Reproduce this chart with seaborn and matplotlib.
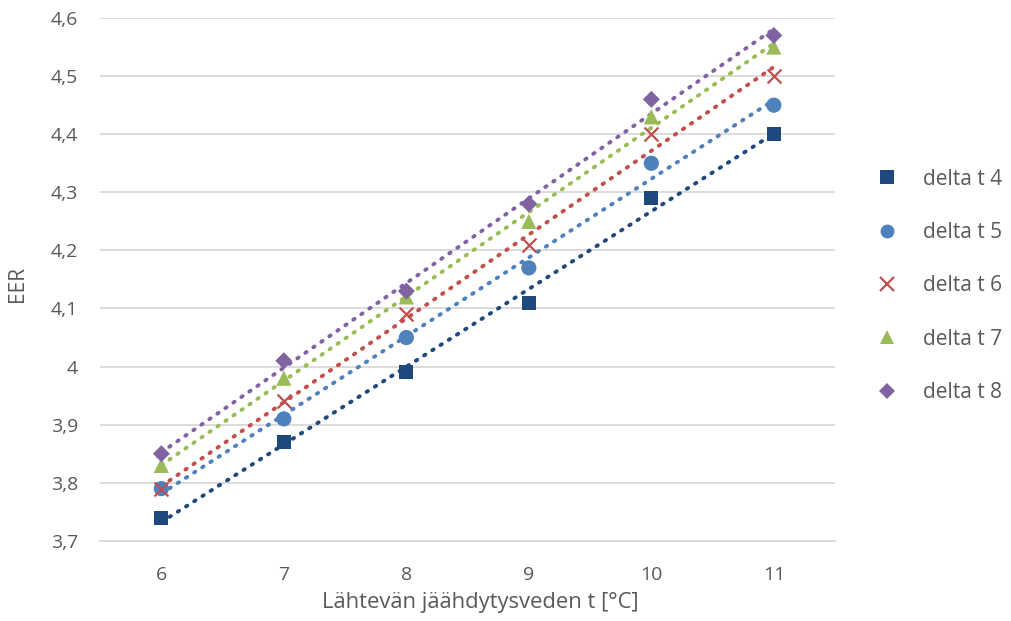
import numpy as np
import pandas as pd
import matplotlib
matplotlib.use("Agg")
import matplotlib.pyplot as plt
import seaborn as sns
from matplotlib.ticker import FuncFormatter

sns.set_theme(style="white")
plt.rcParams['font.family'] = ['Open Sans', 'DejaVu Sans']

x_vals = [6, 7, 8, 9, 10, 11]
series_names = ["delta t 4", "delta t 5", "delta t 6", "delta t 7", "delta t 8"]
dt4 = [3.74, 3.87, 3.99, 4.11, 4.29, 4.40]
dt5 = [3.79, 3.91, 4.05, 4.17, 4.35, 4.45]
dt6 = [3.79, 3.94, 4.09, 4.21, 4.40, 4.50]
dt7 = [3.83, 3.98, 4.12, 4.25, 4.43, 4.55]
dt8 = [3.85, 4.01, 4.13, 4.28, 4.46, 4.57]
y_ticks = [3.7, 3.8, 3.9, 4.0, 4.1, 4.2, 4.3, 4.4, 4.5, 4.6]

colors = ["#1F497D", "#4F81BD", "#C0504D", "#9BBB59", "#8064A2"]
markers = ["s", "o", "x", "^", "D"]
sizes = [100, 120, 100, 120, 75]

fig = plt.figure(figsize=(10.11, 6.21), dpi=100)
ax = fig.add_axes([0.099, 0.129, 0.727, 0.842])

all_series = [dt4, dt5, dt6, dt7, dt8]
handles = []
for name, ys, c, m, s in zip(series_names, all_series, colors, markers, sizes):
    df = pd.DataFrame({"x": x_vals, "y": ys})
    sns.regplot(data=df, x="x", y="y", ax=ax, scatter=False, ci=None, truncate=True,
                line_kws=dict(color=c, linewidth=2.8, linestyle=(0, (0.4, 2.1)),
                              dash_capstyle="round", zorder=2))
    kw = dict(color=c, marker=m, s=s, zorder=3)
    if m == "x":
        kw.update(linewidth=1.6)
    else:
        kw.update(edgecolor="none")
    sns.scatterplot(data=df, x="x", y="y", ax=ax, **kw)
    h = plt.Line2D([], [], linestyle="none", marker=m, color=c,
                   markersize=10 if m != "D" else 8,
                   markeredgewidth=1.6 if m == "x" else 0)
    handles.append(h)

ax.set_xlim(5.5, 11.5)
ax.set_ylim(3.7, 4.6)
ax.set_xticks(x_vals)
ax.set_yticks(y_ticks)
ax.yaxis.set_major_formatter(FuncFormatter(lambda v, p: ("%g" % round(v, 2)).replace(".", ",")))
ax.grid(axis="y", color="#D9D9D9", linewidth=1.3)
ax.grid(axis="x", visible=False)
for sp in ["top", "right", "left"]:
    ax.spines[sp].set_visible(False)
ax.spines["bottom"].set_color("#D9D9D9")
ax.spines["bottom"].set_linewidth(1.3)
ax.tick_params(axis="both", colors="#595959", labelsize=14, length=0)
ax.tick_params(axis="x", pad=18)
ax.tick_params(axis="y", pad=16)
ax.set_xlabel("Lähtevän jäähdytysveden t [°C]", color="#595959", fontsize=15.8)
ax.set_ylabel("EER", color="#595959", fontsize=15)
ax.xaxis.set_label_coords(0.517, -0.097)
ax.yaxis.set_label_coords(-0.098, 0.491)

leg = fig.legend(handles, series_names, loc="upper left", bbox_to_anchor=(0.857, 0.745),
                 frameon=False, fontsize=15, labelspacing=1.55, handletextpad=1.2,
                 borderpad=0, handlelength=1.0)
for t in leg.get_texts():
    t.set_color("#595959")

fig.savefig("out.png", dpi=100)
